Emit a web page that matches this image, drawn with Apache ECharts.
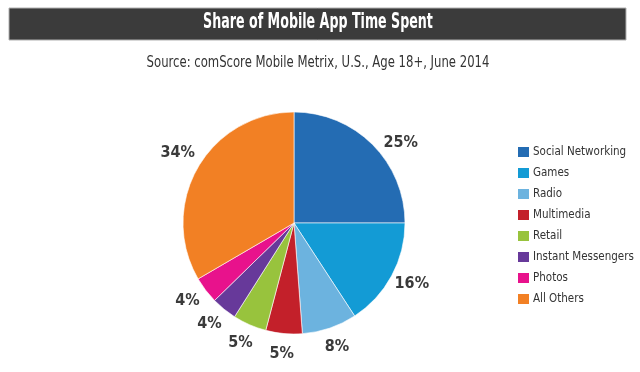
<!DOCTYPE html>
<html>
<head>
<meta charset="utf-8">
<script src="https://cdn.jsdelivr.net/npm/echarts@6/dist/echarts.min.js"></script>
<style>
html,body{margin:0;padding:0;background:#fff;}
#chart{width:640px;height:372px;}
</style>
</head>
<body>
<div id="chart"></div>
<script>
const titleText = 'Share of Mobile App Time Spent';
const subtitleText = 'Source: comScore Mobile Metrix, U.S., Age 18+, June 2014';
const categories = ['Social Networking','Games','Radio','Multimedia','Retail','Instant Messengers','Photos','All Others'];
const values = [25, 15.8, 8, 5.3, 4.9, 3.7, 3.9, 33.4];
const labelTexts = ['25%','16%','8%','5%','5%','4%','4%','34%'];
const colors = ['#246cb3','#139bd5','#6cb3df','#c3202a','#98c33d','#67399a','#e8128c','#f28024'];

const FONT = "'Liberation Sans Narrow','DejaVu Sans Condensed','Roboto Condensed',Roboto,sans-serif";
const chart = echarts.init(document.getElementById('chart'), null, {renderer:'canvas'});

const pieData = categories.map((c,i)=>({name:c, value:values[i], itemStyle:{color:colors[i]}}));
const labelData = categories.map((c,i)=>{
  const d = {name:c, value:values[i], label:{formatter:labelTexts[i]}};
  if (i === 0) d.label.offset = [12, 18];
  return d;
});

chart.setOption({
  animation:false,
  graphic:[
    {type:'rect', shape:{x:9,y:8,width:617,height:32}, style:{fill:'#3b3b3b', stroke:'#b0b0b0', lineWidth:1}},
    {type:'text', x:318, y:23, scaleX:0.67, style:{text:titleText, fill:'#fff', font:"bold 21px "+FONT, align:'center', verticalAlign:'middle'}},
    {type:'text', x:318, y:63, scaleX:0.81, style:{text:subtitleText, fill:'#333', font:"16px "+FONT, align:'center', verticalAlign:'middle'}}
  ],
  legend:{
    orient:'vertical', left:511, top:140,
    itemWidth:13, itemHeight:12, itemGap:7,
    icon:'rect',
    data:categories.map((c,i)=>({name:c, itemStyle:{color:colors[i]}})),
    textStyle:{fontFamily:FONT, fontSize:11.5, lineHeight:13, color:'#333', padding:[0,0,0,-2]},
    selectedMode:false
  },
  series:[
    {
      type:'pie', center:[294,223], radius:[0,111], startAngle:90, clockwise:true,
      data:pieData, label:{show:false}, labelLine:{show:false},
      itemStyle:{borderColor:'#ffffff', borderWidth:0.6},
      emphasis:{disabled:true}, silent:true
    },
    {
      type:'pie', center:[294,220], radius:[118,144], startAngle:90, clockwise:true,
      data:labelData, itemStyle:{color:'rgba(0,0,0,0)'},
      label:{show:true, position:'inside', fontFamily:FONT, fontWeight:'bold', fontSize:16, color:'#3a3a3a'},
      labelLine:{show:false}, emphasis:{disabled:true}, silent:true, legendHoverLink:false
    }
  ]
});
</script>
</body>
</html>
